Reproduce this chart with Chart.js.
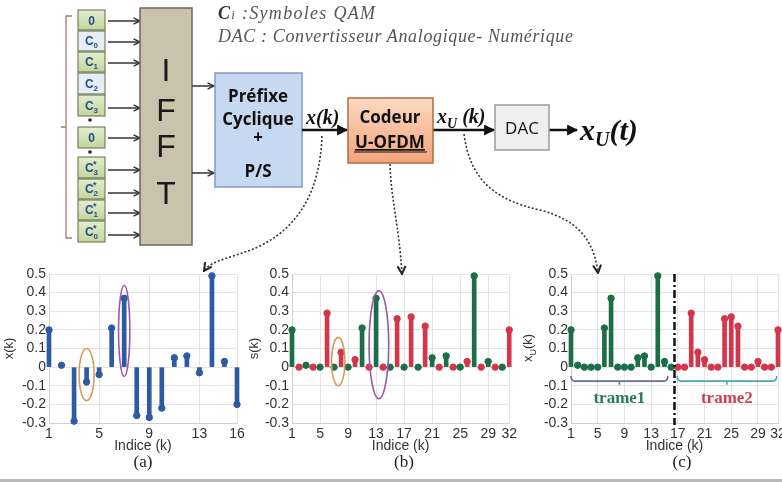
<!DOCTYPE html>
<html>
<head>
<meta charset="utf-8">
<script src="https://cdn.jsdelivr.net/npm/chart.js@4.4.1/dist/chart.umd.min.js"></script>
<style>
html, body { margin: 0; padding: 0; background: #fff; }
body { width: 782px; height: 482px; position: relative; overflow: hidden; font-family: 'Liberation Sans', Arial, sans-serif; }
canvas { position: absolute; top: 250px; }
.cap { position: absolute; top: 452px; font: 17px 'Liberation Serif', serif; color: #222; transform: translateX(-50%); }
#ytc { position: absolute; left: 529px; top: 348px; transform: translate(-50%, -50%) rotate(-90deg); font: 13px 'Liberation Sans', sans-serif; color: #333; white-space: nowrap; }
#ytc sub { font-size: 9px; }
</style>
</head>
<body>

<canvas id="chA" width="250" height="232" style="left:0px"></canvas>
<canvas id="chB" width="275" height="232" style="left:245px"></canvas>
<canvas id="chC" width="272" height="232" style="left:520px"></canvas>

<div class="cap" style="left:143px">(a)</div>
<div class="cap" style="left:404px">(b)</div>
<div class="cap" style="left:682px">(c)</div>
<div id="ytc">x<sub>U</sub>(k)</div>
<div style="position:absolute;left:0;top:479px;width:782px;height:3px;background:#b8b8b8"></div>

<svg width="782" height="482" style="position:absolute;left:0;top:0;pointer-events:none" xmlns="http://www.w3.org/2000/svg">
  <defs>
    <marker id="vh" viewBox="0 0 10 10" refX="9" refY="5" markerWidth="8" markerHeight="8" orient="auto" markerUnits="userSpaceOnUse">
      <path d="M1,1 L9,5 L1,9" fill="none" stroke="#333" stroke-width="1.8"/>
    </marker>
    <marker id="th" viewBox="0 0 10 10" refX="9" refY="5" markerWidth="11" markerHeight="11" orient="auto" markerUnits="userSpaceOnUse">
      <path d="M0,0 L10,5 L0,10 Z" fill="#111"/>
    </marker>
    <marker id="dh" viewBox="0 0 10 10" refX="9" refY="5" markerWidth="10" markerHeight="10" orient="auto" markerUnits="userSpaceOnUse">
      <path d="M1,1 L9,5 L1,9" fill="none" stroke="#222" stroke-width="2"/>
    </marker>
    <linearGradient id="gOr" x1="0" y1="0" x2="0" y2="1">
      <stop offset="0" stop-color="#fcd9c2"/><stop offset="1" stop-color="#f2a47a"/>
    </linearGradient>
    <linearGradient id="gGr" x1="0" y1="0" x2="0" y2="1">
      <stop offset="0" stop-color="#e4edcf"/><stop offset="1" stop-color="#c3d69b"/>
    </linearGradient>
  </defs>

  <!-- legende -->
  <text x="218" y="19" font-family="Liberation Serif, serif" font-style="italic" font-size="18" fill="#555" textLength="157" lengthAdjust="spacing"><tspan font-weight="bold" fill="#333">C</tspan><tspan font-size="13">i</tspan> :Symboles QAM</text>
  <text x="218" y="42" font-family="Liberation Serif, serif" font-style="italic" font-size="18" fill="#555" textLength="355" lengthAdjust="spacing">DAC : Convertisseur Analogique- Numérique</text>

  <!-- accolade gauche -->
  <path d="M72,16 L66,16 L66,238 L72,238 M66,127 L61,127" fill="none" stroke="#a07a7a" stroke-width="1.3"/>

  <!-- entrees -->
  <g font-family="Liberation Sans, sans-serif" font-weight="bold" font-size="12" fill="#1f4e8c" text-anchor="middle" stroke-width="1">
    <rect x="78" y="10" width="27" height="20" fill="url(#gGr)" stroke="#5d6b45"/>
    <text x="91.5" y="25">0</text>
    <rect x="78" y="31" width="27" height="20" fill="#e8edf5" stroke="#5d6b45"/>
    <text x="91.5" y="45">C<tspan font-size="8" dy="3">0</tspan></text>
    <rect x="78" y="52" width="27" height="20" fill="url(#gGr)" stroke="#5d6b45"/>
    <text x="91.5" y="66">C<tspan font-size="8" dy="3">1</tspan></text>
    <rect x="78" y="73" width="27" height="21" fill="#e8edf5" stroke="#5d6b45"/>
    <text x="91.5" y="88">C<tspan font-size="8" dy="3">2</tspan></text>
    <rect x="78" y="95" width="27" height="21" fill="url(#gGr)" stroke="#5d6b45"/>
    <text x="91.5" y="110">C<tspan font-size="8" dy="3">3</tspan></text>
    <circle cx="90" cy="120" r="1.8" fill="#222"/>
    <rect x="78" y="127" width="27" height="21" fill="url(#gGr)" stroke="#5d6b45"/>
    <text x="91.5" y="142">0</text>
    <circle cx="90" cy="152" r="1.8" fill="#222"/>
    <rect x="78" y="157" width="27" height="21" fill="url(#gGr)" stroke="#5d6b45"/>
    <text x="91.5" y="172">C<tspan font-size="8" dy="3">3</tspan><tspan font-size="9" dx="-5" dy="-8">*</tspan></text>
    <rect x="78" y="179" width="27" height="20" fill="url(#gGr)" stroke="#5d6b45"/>
    <text x="91.5" y="193">C<tspan font-size="8" dy="3">2</tspan><tspan font-size="9" dx="-5" dy="-8">*</tspan></text>
    <rect x="78" y="200" width="27" height="20" fill="url(#gGr)" stroke="#5d6b45"/>
    <text x="91.5" y="214">C<tspan font-size="8" dy="3">1</tspan><tspan font-size="9" dx="-5" dy="-8">*</tspan></text>
    <rect x="78" y="221" width="27" height="21" fill="url(#gGr)" stroke="#5d6b45"/>
    <text x="91.5" y="236">C<tspan font-size="8" dy="3">0</tspan><tspan font-size="9" dx="-5" dy="-8">*</tspan></text>
  </g>
  <g stroke="#333" stroke-width="1.5" marker-end="url(#vh)">
    <line x1="108" y1="21" x2="140" y2="21"/>
    <line x1="108" y1="42" x2="140" y2="42"/>
    <line x1="108" y1="63" x2="140" y2="63"/>
    <line x1="108" y1="108" x2="140" y2="108"/>
    <line x1="108" y1="138" x2="140" y2="138"/>
    <line x1="108" y1="170" x2="140" y2="170"/>
    <line x1="108" y1="193" x2="140" y2="193"/>
    <line x1="108" y1="213" x2="140" y2="213"/>
    <line x1="108" y1="235" x2="140" y2="235"/>
  </g>

  <!-- IFFT -->
  <rect x="140" y="8" width="52" height="237" fill="#cbc2ae" stroke="#6f6655" stroke-width="1.5"/>
  <g font-family="Liberation Sans, sans-serif" font-size="32" fill="#1a1a1a" text-anchor="middle">
    <text x="166" y="81">I</text>
    <text x="166" y="121">F</text>
    <text x="166" y="157">F</text>
    <text x="166" y="204">T</text>
  </g>
  <g stroke="#333" stroke-width="1.5" marker-end="url(#vh)">
    <line x1="192" y1="86" x2="214" y2="86"/>
    <line x1="192" y1="173" x2="214" y2="173"/>
  </g>

  <!-- Prefixe cyclique -->
  <rect x="215" y="73" width="87" height="114" fill="#c6d9f0" stroke="#7f9cc0" stroke-width="1.5"/>
  <g font-family="Open Sans, sans-serif" font-weight="bold" font-size="17" fill="#111" text-anchor="middle">
    <text x="258" y="102">Préfixe</text>
    <text x="258" y="125">Cyclique</text>
    <text x="258" y="143">+</text>
    <text x="258" y="177">P/S</text>
  </g>

  <!-- chaine principale -->
  <g stroke="#111" stroke-width="2.5" marker-end="url(#th)">
    <line x1="302" y1="130" x2="347" y2="130"/>
    <line x1="433" y1="130" x2="494" y2="130"/>
    <line x1="549" y1="130" x2="577" y2="130"/>
  </g>
  <text x="306" y="124" font-family="Liberation Serif, serif" font-style="italic" font-weight="bold" font-size="20" fill="#111">x(k)</text>
  <text x="437" y="123" font-family="Liberation Serif, serif" font-style="italic" font-weight="bold" font-size="20" fill="#111">x<tspan font-size="14" dy="5">U</tspan><tspan dy="-5"> (k)</tspan></text>

  <rect x="348" y="98" width="85" height="65" fill="url(#gOr)" stroke="#b06a45" stroke-width="1.5"/>
  <g font-family="Open Sans, sans-serif" font-weight="bold" font-size="17" fill="#111" text-anchor="middle">
    <text x="390" y="123">Codeur</text>
    <text x="390" y="148" text-decoration="underline">U-OFDM</text>
  </g>
  <line x1="354" y1="152" x2="427" y2="152" stroke="#111" stroke-width="1.2"/>

  <rect x="495" y="105" width="54" height="45" fill="#efefef" stroke="#9a9a9a" stroke-width="1.5"/>
  <text x="522" y="134" font-family="Open Sans, sans-serif" font-size="17" fill="#111" text-anchor="middle">DAC</text>

  <text x="580" y="140" font-family="Liberation Serif, serif" font-style="italic" font-weight="bold" font-size="30" fill="#111">x<tspan font-size="20" dy="6">U</tspan><tspan dy="-6">(t)</tspan></text>

  <!-- renvois pointilles -->
  <g fill="none" stroke="#333" stroke-width="1.6" stroke-dasharray="2,2" marker-end="url(#dh)">
    <path d="M322,136 C320,190 300,225 262,245 C235,258 212,259 204,271"/>
    <path d="M390,164 C391,200 399,225 402,274"/>
    <path d="M464,134 C470,180 495,200 540,210 C578,220 594,240 598,273"/>
  </g>
</svg>

<script>
// x(k) : sortie IFFT, 16 echantillons
const kA = [1, 2, 3, 4, 5, 6, 7, 8, 9, 10, 11, 12, 13, 14, 15, 16];
const xA = [0.2, 0.01, -0.29, -0.08, -0.04, 0.21, 0.37, -0.26, -0.27, -0.22, 0.05, 0.06, -0.03, 0.49, 0.03, -0.2];

// partie positive / negative (trame1 / trame2)
const posFrame = [0.2, 0.01, 0, 0, 0, 0.21, 0.37, 0, 0, 0, 0.05, 0.06, 0, 0.49, 0.03, 0];
const negFrame = [0, 0, 0.29, 0.08, 0.04, 0, 0, 0.26, 0.27, 0.22, 0, 0, 0.03, 0, 0, 0.2];

// indices : (b) entrelace, (c) trames successives
const kBpos = [1, 3, 5, 7, 9, 11, 13, 15, 17, 19, 21, 23, 25, 27, 29, 31];
const kBneg = [2, 4, 6, 8, 10, 12, 14, 16, 18, 20, 22, 24, 26, 28, 30, 32];
const kCpos = [1, 2, 3, 4, 5, 6, 7, 8, 9, 10, 11, 12, 13, 14, 15, 16];
const kCneg = [17, 18, 19, 20, 21, 22, 23, 24, 25, 26, 27, 28, 29, 30, 31, 32];

const yTicks = [-0.3, -0.2, -0.1, 0, 0.1, 0.2, 0.3, 0.4, 0.5];
const xTicksA = [1, 5, 9, 13, 16];
const xTicksB = [1, 5, 9, 13, 17, 21, 25, 29, 32];

const frameNames = ['trame1', 'trame2'];
const frameSpans = [[1, 15.5], [16.9, 31.8]];
const frameSplit = 16.5;

const BLUE = '#2c5aa3', GREEN = '#1b6e47', RED = '#d3364b';

const highlightsA = [
  { k: 4, v: -0.04, dk: 0.6, dv: 0.14, color: '#d79a58' },
  { k: 7, v: 0.195, dk: 0.45, dv: 0.245, color: '#9b5aa3' }
];
const highlightsB = [
  { k: 7.6, v: 0.03, dk: 0.95, dv: 0.13, color: '#d79a58' },
  { k: 13.4, v: 0.12, dk: 1.4, dv: 0.29, color: '#9b5aa3' }
];

function stems(ks, vals, color, label) {
  const pts = ks.map((k, i) => ({ x: k, y: vals[i] }));
  return [
    { type: 'bar', label: label, data: pts, backgroundColor: color, barThickness: 4, grouped: false, clip: false, order: 2 },
    { type: 'line', label: label, data: pts, showLine: false, pointRadius: 3.2, pointBackgroundColor: color,
      pointBorderColor: color, borderColor: color, clip: false, order: 1 }
  ];
}

const ellipses = list => ({
  id: 'ellipses',
  afterDatasetsDraw(chart) {
    const { ctx, scales: { x, y } } = chart;
    list.forEach(e => {
      const cx = x.getPixelForValue(e.k), cy = y.getPixelForValue(e.v);
      const rx = Math.abs(x.getPixelForValue(e.k + e.dk) - cx);
      const ry = Math.abs(y.getPixelForValue(e.v + e.dv) - cy);
      ctx.save();
      ctx.beginPath();
      ctx.ellipse(cx, cy, rx, ry, 0, 0, Math.PI * 2);
      ctx.strokeStyle = e.color;
      ctx.lineWidth = 1.6;
      ctx.stroke();
      ctx.restore();
    });
  }
});

const frames = {
  id: 'frames',
  afterDatasetsDraw(chart) {
    const { ctx, chartArea, scales: { x, y } } = chart;
    ctx.save();
    // separation des trames
    const xs = x.getPixelForValue(frameSplit);
    ctx.strokeStyle = '#111';
    ctx.lineWidth = 2.5;
    ctx.setLineDash([8, 3, 2, 3]);
    ctx.beginPath();
    ctx.moveTo(xs, chartArea.top);
    ctx.lineTo(xs, chartArea.bottom + 2);
    ctx.stroke();
    ctx.setLineDash([]);
    // accolades + noms
    const braceCol = ['#6b6aa6', '#4aa2b8'];
    const textCol = ['#2a7a5c', '#cf3f4f'];
    const yl = y.getPixelForValue(-0.075), ye = y.getPixelForValue(-0.048), yt = y.getPixelForValue(-0.095);
    frameSpans.forEach((sp, i) => {
      const x1 = x.getPixelForValue(sp[0]), x2 = x.getPixelForValue(sp[1]);
      const xc = (x1 + x2) / 2;
      ctx.strokeStyle = braceCol[i];
      ctx.lineWidth = 1.6;
      ctx.beginPath();
      ctx.moveTo(x1, ye);
      ctx.quadraticCurveTo(x1, yl, x1 + 4, yl);
      ctx.lineTo(x2 - 4, yl);
      ctx.quadraticCurveTo(x2, yl, x2, ye);
      ctx.moveTo(xc, yl);
      ctx.lineTo(xc, yt);
      ctx.stroke();
      ctx.fillStyle = textCol[i];
      ctx.font = 'bold 17px "Liberation Serif", serif';
      ctx.textAlign = 'center';
      ctx.textBaseline = 'middle';
      ctx.fillText(frameNames[i], xc, y.getPixelForValue(-0.17));
    });
    ctx.restore();
  }
};

function makeChart(id, datasets, xTicks, xMax, yWidth, yTitle, padRight, plugins) {
  return new Chart(document.getElementById(id), {
    type: 'bar',
    data: { datasets: datasets },
    options: {
      responsive: false,
      animation: false,
      layout: { padding: { top: 24, bottom: 23, left: 0, right: padRight } },
      plugins: { legend: { display: false }, tooltip: { enabled: false } },
      scales: {
        x: {
          type: 'linear', min: 1, max: xMax, offset: false,
          afterBuildTicks: s => { s.ticks = xTicks.map(v => ({ value: v })); },
          afterFit: s => { s.height = 36; },
          grid: { color: '#e4e4e4', offset: false, drawTicks: false },
          border: { color: '#d0d0d0' },
          ticks: { padding: 3, color: '#333', autoSkip: false, maxRotation: 0,
                   font: { size: 14, family: 'Liberation Sans' } },
          title: { display: true, text: 'Indice (k)', color: '#333',
                   font: { size: 14, family: 'Liberation Sans' }, padding: { top: 0, bottom: 4 } }
        },
        y: {
          min: -0.3, max: 0.5,
          afterBuildTicks: s => { s.ticks = yTicks.map(v => ({ value: v })); },
          afterFit: s => { s.width = yWidth; },
          grid: { color: '#e4e4e4', drawTicks: false },
          border: { color: '#d0d0d0' },
          ticks: { padding: 3, color: '#333', autoSkip: false, font: { size: 14, family: 'Liberation Sans' },
                   callback: v => String(Math.round(v * 10) / 10) },
          title: { display: !!yTitle, text: yTitle, color: '#333',
                   font: { size: 13, family: 'Liberation Sans' }, padding: { top: 2, bottom: 0 } }
        }
      }
    },
    plugins: plugins
  });
}

makeChart('chA', stems(kA, xA, BLUE, 'x(k)'), xTicksA, 16, 49, 'x(k)', 13, [ellipses(highlightsA)]);
makeChart('chB', stems(kBpos, posFrame, GREEN, 's(k) +').concat(stems(kBneg, negFrame, RED, 's(k) -')),
          xTicksB, 32, 47, 's(k)', 8, [ellipses(highlightsB)]);
makeChart('chC', stems(kCpos, posFrame, GREEN, 'trame1').concat(stems(kCneg, negFrame, RED, 'trame2')),
          xTicksB, 32, 51, '', 14, [frames]);
</script>
</body>
</html>
